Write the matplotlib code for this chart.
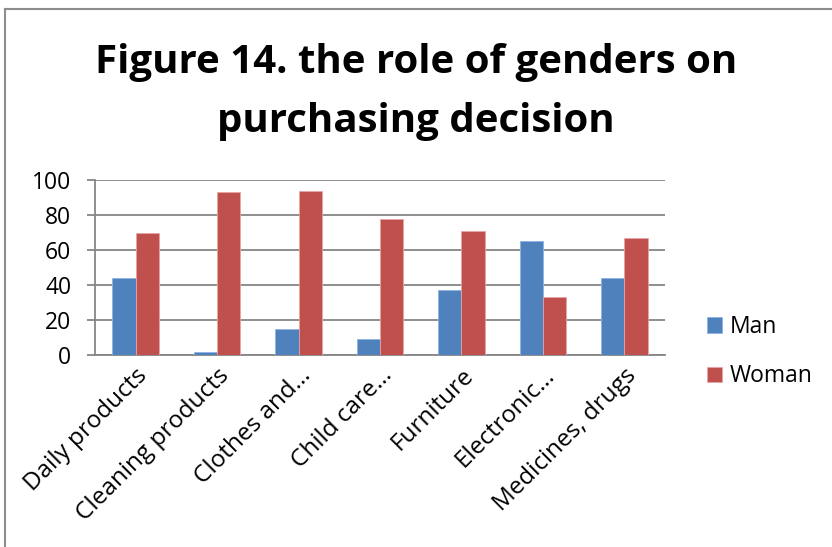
import matplotlib
matplotlib.use('Agg')
import matplotlib.pyplot as plt
from matplotlib.lines import Line2D
import numpy as np

categories = ['Daily products', 'Cleaning products', 'Clothes and\u2026',
              'Child care\u2026', 'Furniture', 'Electronic\u2026',
              'Medicines, drugs']
man = [44, 2, 15, 9, 37, 65, 44]
woman = [70, 93, 94, 78, 71, 33, 67]
y_ticks = [0, 20, 40, 60, 80, 100]

plt.rcParams['font.family'] = ['Open Sans', 'DejaVu Sans']

fig = plt.figure(figsize=(8.32, 5.47), dpi=100)
ax = fig.add_axes([95/832, 1-355/547, 570/832, 175/547])

x = np.arange(len(categories))
w = 1/3.5
ax.bar(x - w/2, man, w, color='#4F81BD', edgecolor='#8EB4E3', linewidth=0.6,
       label='Man', zorder=3)
ax.bar(x + w/2, woman, w, color='#C0504D', edgecolor='#E6A5A4', linewidth=0.6,
       label='Woman', zorder=3)

ax.set_xlim(-0.5, len(categories) - 0.5)
ax.set_ylim(0, 100)
ax.set_yticks(y_ticks)
ax.set_yticklabels([str(t) for t in y_ticks], fontsize=16.5)
ax.yaxis.grid(True, color='#868686', linewidth=1.3, zorder=0)
ax.set_xticks(x)
ax.set_xticklabels(categories, rotation=45, ha='right', rotation_mode='anchor',
                   fontsize=17.5)
ax.tick_params(axis='x', length=0, pad=6)
ax.tick_params(axis='y', length=6, width=1.3, color='#868686', pad=11)
for side in ['top', 'right']:
    ax.spines[side].set_visible(False)
for side in ['left', 'bottom']:
    ax.spines[side].set_color('#868686')
    ax.spines[side].set_linewidth(1.3)

fig.text(0.5, 1-92/547, 'Figure 14. the role of genders on\npurchasing decision',
         ha='center', va='center', fontsize=29, fontweight='bold',
         linespacing=1.65)

fig.legend(loc='upper left', bbox_to_anchor=(707/832, 1-315/547),
           frameon=False, fontsize=16.5, handlelength=0.65, handleheight=0.65,
           labelspacing=1.1, handletextpad=0.35, borderpad=0, borderaxespad=0)

# chart frame
fig.add_artist(Line2D([5/832, 1], [1-9/547, 1-9/547], color='#8C8C8C', linewidth=1.5))
fig.add_artist(Line2D([5/832, 5/832], [0, 1-9/547], color='#8C8C8C', linewidth=1.5))

fig.savefig('out.png', dpi=100)
